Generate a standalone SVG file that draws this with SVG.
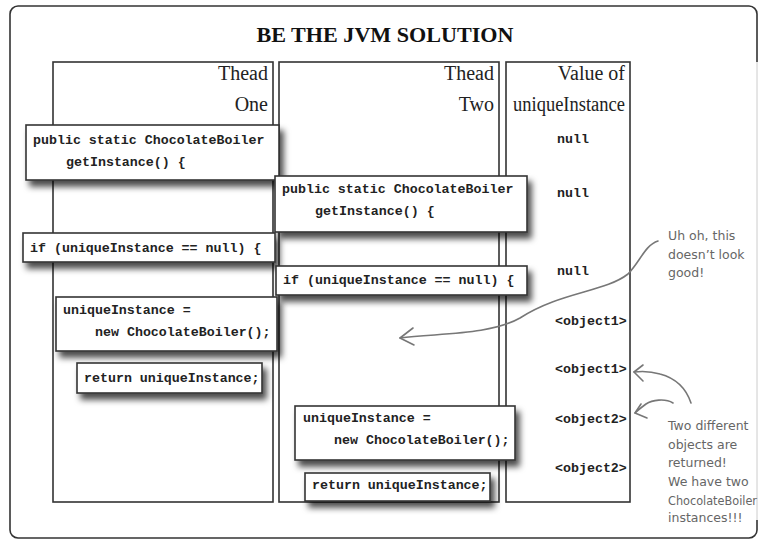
<svg xmlns="http://www.w3.org/2000/svg" width="771" height="544" viewBox="0 0 771 544">
<defs>
<filter id="sh" x="-10%" y="-30%" width="130%" height="180%">
<feDropShadow dx="4" dy="6" stdDeviation="3.2" flood-color="#000" flood-opacity="0.7"/>
</filter>
</defs>
<style>
.frame{fill:#fff;stroke:#333;stroke-width:1.6}
.col{fill:#fff;stroke:#333;stroke-width:1.6}
.box{fill:#fff;stroke:#333;stroke-width:1.6;filter:url(#sh)}
.code{font-family:"Liberation Mono",monospace;font-weight:bold;font-size:13.3px;fill:#222}
.hdr{font-family:"Liberation Serif",serif;font-size:20px;fill:#222;text-anchor:end}
.title{font-family:"Liberation Serif",serif;font-weight:bold;font-size:21px;fill:#111;text-anchor:middle}
.note{font-family:"DejaVu Sans",sans-serif;font-size:12.5px;fill:#666}
.arr{fill:none;stroke:#777;stroke-width:1.6;stroke-linecap:round;stroke-linejoin:round}
</style>
<rect width="771" height="544" fill="#fff"/>
<rect class="frame" x="10" y="6" width="747" height="532" rx="8"/>
<rect x="752" y="62" width="14" height="458" fill="#fff"/>
<line x1="757" y1="62" x2="757" y2="520" stroke="#ccc" stroke-width="1"/>
<text class="title" x="385" y="42" textLength="257" lengthAdjust="spacingAndGlyphs">BE THE JVM SOLUTION</text>

<g id="col-thread-one">
<rect class="col" x="53" y="62" width="220" height="440"/>
<text class="hdr" x="268" y="80">Thead</text>
<text class="hdr" x="268" y="111">One</text>
</g>
<g id="col-thread-two">
<rect class="col" x="279" y="62" width="220" height="440"/>
<text class="hdr" x="494" y="80">Thead</text>
<text class="hdr" x="494" y="111">Two</text>
</g>
<g id="col-value">
<rect class="col" x="506" y="62" width="124" height="440"/>
<text class="hdr" x="625" y="80">Value of</text>
<text class="hdr" x="625" y="111" textLength="112" lengthAdjust="spacingAndGlyphs">uniqueInstance</text>
<text class="code" x="557" y="143">null</text>
<text class="code" x="557" y="197">null</text>
<text class="code" x="557" y="275">null</text>
<text class="code" x="555" y="325">&lt;object1&gt;</text>
<text class="code" x="555" y="373">&lt;object1&gt;</text>
<text class="code" x="555" y="423">&lt;object2&gt;</text>
<text class="code" x="555" y="472">&lt;object2&gt;</text>
</g>

<g id="t1-getinstance">
<rect class="box" x="26" y="125" width="253" height="55"/>
<text class="code" x="33" y="144">public static ChocolateBoiler</text>
<text class="code" x="66" y="166">getInstance() {</text>
</g>
<g id="t2-getinstance">
<rect class="box" x="275" y="176" width="252" height="56"/>
<text class="code" x="282" y="193">public static ChocolateBoiler</text>
<text class="code" x="315" y="215">getInstance() {</text>
</g>
<g id="t1-if">
<rect class="box" x="23" y="233" width="252" height="29"/>
<text class="code" x="30" y="252">if (uniqueInstance == null) {</text>
</g>
<g id="t2-if">
<rect class="box" x="276" y="266" width="251" height="29"/>
<text class="code" x="283" y="284">if (uniqueInstance == null) {</text>
</g>
<g id="t1-new">
<rect class="box" x="56" y="297" width="221" height="54"/>
<text class="code" x="63" y="314">uniqueInstance =</text>
<text class="code" x="95" y="336">new ChocolateBoiler();</text>
</g>
<g id="t1-return">
<rect class="box" x="77" y="363" width="185" height="30"/>
<text class="code" x="84" y="382">return uniqueInstance;</text>
</g>
<g id="t2-new">
<rect class="box" x="295" y="406" width="220" height="54"/>
<text class="code" x="303" y="422">uniqueInstance =</text>
<text class="code" x="334" y="444">new ChocolateBoiler();</text>
</g>
<g id="t2-return">
<rect class="box" x="305" y="473" width="185" height="28"/>
<text class="code" x="312" y="489">return uniqueInstance;</text>
</g>

<g id="connectors">
<path class="arr" d="M658,241 C645,245 640,262 628,274 C605,292 560,292 520,318 C490,335 440,333 400,338"/>
<path class="arr" d="M413,328 L400,338 L414,345"/>
<path class="arr" d="M691,403 C686,388 675,378 660,374 C650,371 642,371 634,372"/>
<path class="arr" d="M643,365 L634,372 L643,381"/>
<path class="arr" d="M673,403 C665,398 652,400 646,404 C642,407 638,410 635,413"/>
<path class="arr" d="M641,404 L635,413 L647,418"/>
</g>

<g id="note-1">
<text class="note" x="668" y="240">Uh oh, this</text>
<text class="note" x="668" y="259">doesn’t look</text>
<text class="note" x="668" y="277">good!</text>
</g>
<g id="note-2">
<text class="note" x="668" y="430">Two different</text>
<text class="note" x="668" y="449">objects are</text>
<text class="note" x="668" y="467">returned!</text>
<text class="note" x="668" y="486">We have two</text>
<text class="note" x="668" y="505" textLength="89" lengthAdjust="spacingAndGlyphs">ChocolateBoiler</text>
<text class="note" x="668" y="522">instances!!!</text>
</g>
</svg>
